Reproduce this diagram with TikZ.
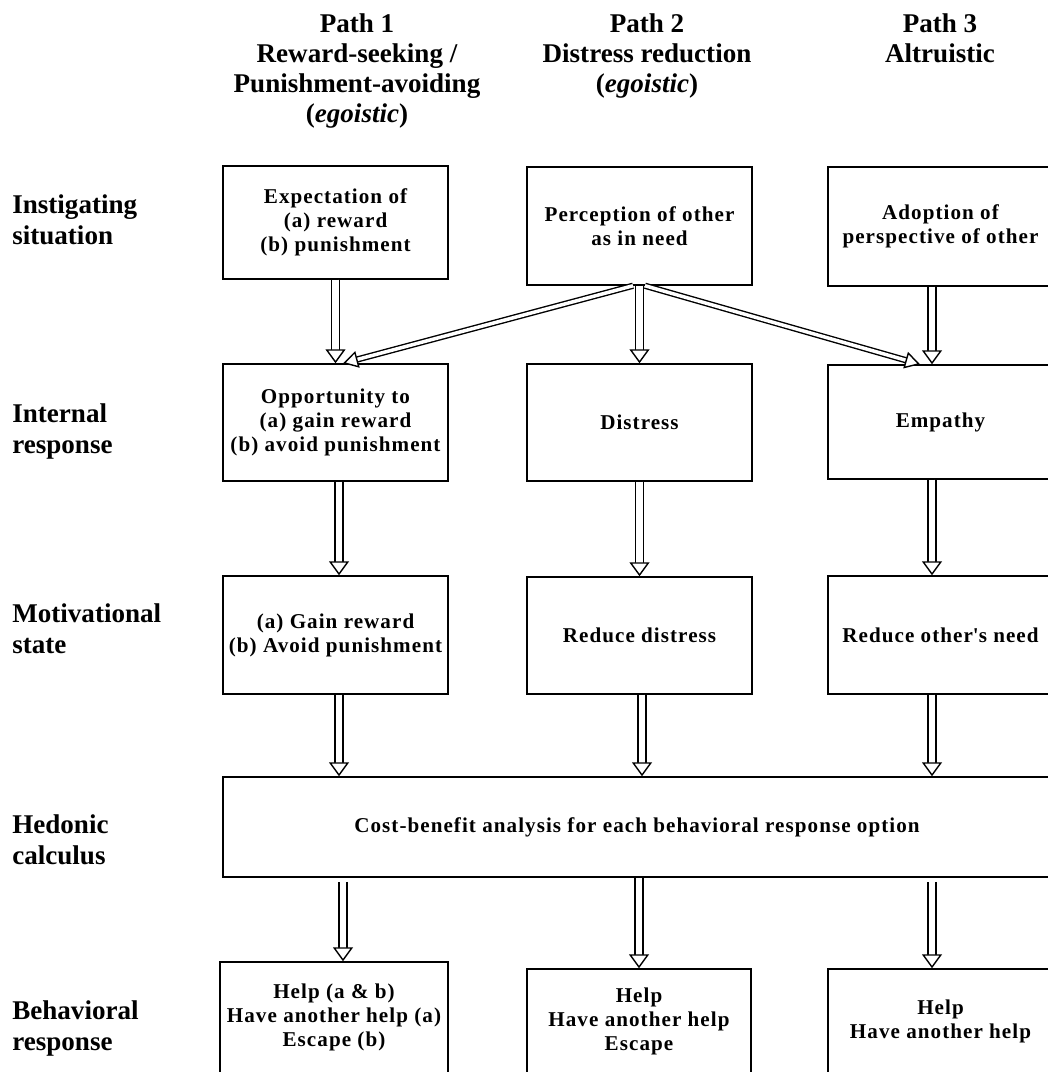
\documentclass[tikz,border=0pt]{standalone}
\usepackage{fontspec}
\setmainfont{Liberation Serif}
\newfontfamily\boxfont[LetterSpace=5]{Liberation Serif}
\usetikzlibrary{arrows.meta}

\begin{document}
\begin{tikzpicture}[x=0.02cm, y=-0.02cm,
    pbox/.style={draw, line width=0.03cm, minimum width=4.5cm, inner sep=0pt,
        align=center, font=\boxfont\bfseries\fontsize{12}{13.7}\selectfont},
    heading/.style={inner sep=0pt, align=center, anchor=north,
        font=\bfseries\fontsize{15.4}{17.1}\selectfont},
    rowlabel/.style={inner sep=0pt, align=left, anchor=north west,
        font=\bfseries\fontsize{15.4}{17.6}\selectfont},
    hollow/.style={double=white, double distance=0.13cm, line width=0.028cm,
        -{Triangle[length=0.28cm, width=0.4cm, fill=white]}},
    slanted/.style={double=white, double distance=0.07cm, line width=0.028cm,
        -{Triangle[length=0.3cm, width=0.34cm, fill=white]}}]
    \useasboundingbox (0,0) rectangle (1048,1072);
    \clip (0,0) rectangle (1048,1072);

    % Column headings
    \node[heading] (head1) at (357,13) {Path 1\\Reward-seeking /\\Punishment-avoiding\\(\textit{egoistic})};
    \node[heading] (head2) at (647,13) {Path 2\\Distress reduction\\(\textit{egoistic})};
    \node[heading] (head3) at (940,13) {Path 3\\Altruistic};

    % Row labels
    \node[rowlabel] (lab1) at (12,194) {Instigating\\situation};
    \node[rowlabel] (lab2) at (12,403) {Internal\\response};
    \node[rowlabel] (lab3) at (12,603) {Motivational\\state};
    \node[rowlabel] (lab4) at (12,814) {Hedonic\\calculus};
    \node[rowlabel] (lab5) at (12,1000) {Behavioral\\response};

    % Instigating situation
    \node[pbox, minimum height=2.26cm] (expect) at (335.5,222.5) {Expectation of\\(a) reward\\(b) punishment};
    \node[pbox, minimum height=2.36cm] (perceive) at (639.5,226) {Perception of other\\as in need};
    \node[pbox, minimum height=2.38cm] (adopt) at (940.5,226.5) {Adoption of\\perspective of other};

    % Internal response
    \node[pbox, minimum height=2.34cm] (chance) at (335.5,422.5) {Opportunity to\\(a) gain reward\\(b) avoid punishment};
    \node[pbox, minimum height=2.34cm] (distress) at (639.5,422.5) {Distress};
    \node[pbox, minimum height=2.28cm] (empathy) at (940.5,422) {Empathy};

    % Motivational state
    \node[pbox, minimum height=2.36cm] (gain) at (335.5,635) {(a) Gain reward\\(b) Avoid punishment};
    \node[pbox, minimum height=2.34cm] (reduce) at (639.5,635.5) {Reduce distress};
    \node[pbox, minimum height=2.36cm] (relieve) at (940.5,635) {Reduce other\textquotesingle s need};

    % Hedonic calculus
    \node[pbox, minimum width=16.56cm, minimum height=2cm] (calc) at (637,827) {Cost-benefit analysis for each behavioral response option};

    % Behavioral response
    \node[pbox, minimum width=4.56cm, minimum height=2.22cm] (help1) at (334,1017.5) {Help (a \& b)\\Have another help (a)\\Escape (b)};
    \node[pbox, minimum width=4.48cm, minimum height=2.08cm] (help2) at (639,1021) {Help\\Have another help\\Escape};
    \node[pbox, minimum height=2.08cm] (help3) at (940.5,1021) {Help\\Have another help};

    % Arrows
    \draw[hollow] (expect.south) -- (chance.north);
    \draw[hollow] (perceive.south) -- (distress.north);
    \draw[hollow] ([xshift=-0.17cm]adopt.south) -- ([xshift=-0.17cm]empathy.north);
    \draw[slanted] ([xshift=-0.13cm]perceive.south) -- ([xshift=0.15cm]chance.north);
    \draw[slanted] ([xshift=0.11cm]perceive.south) -- ([xshift=-0.41cm]empathy.north);

    \draw[hollow] ([xshift=0.07cm]chance.south) -- ([xshift=0.07cm]gain.north);
    \draw[hollow] (distress.south) -- (reduce.north);
    \draw[hollow] ([xshift=-0.17cm]empathy.south) -- ([xshift=-0.17cm]relieve.north);

    \draw[hollow] ([xshift=0.07cm]gain.south) -- ([xshift=0.07cm]gain.south |- calc.north);
    \draw[hollow] ([xshift=0.05cm]reduce.south) -- ([xshift=0.05cm]reduce.south |- calc.north);
    \draw[hollow] ([xshift=-0.17cm]relieve.south) -- ([xshift=-0.17cm]relieve.south |- calc.north);

    \draw[hollow] ([xshift=0.18cm,yshift=-0.08cm]help1.north |- calc.south) -- ([xshift=0.18cm]help1.north);
    \draw[hollow] (help2.north |- calc.south) -- (help2.north);
    \draw[hollow] ([xshift=-0.17cm,yshift=-0.08cm]help3.north |- calc.south) -- ([xshift=-0.17cm]help3.north);
\end{tikzpicture}
\end{document}
